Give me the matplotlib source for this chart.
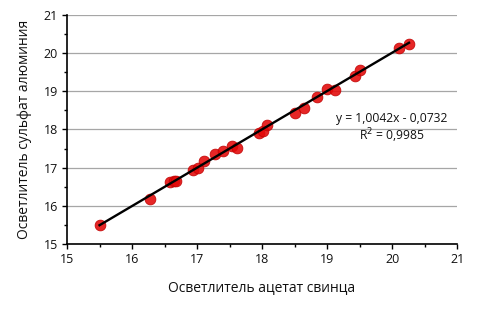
import numpy as np
import matplotlib.pyplot as plt
from matplotlib.ticker import MultipleLocator

## DATA
lead_acetate = [15.50, 16.27, 16.58, 16.64, 16.68, 16.94, 17.02, 17.11, 17.28, 17.40,
                17.53, 17.61, 17.96, 18.02, 18.08, 18.51, 18.64, 18.84, 19.00, 19.12,
                19.43, 19.51, 20.10, 20.26]
aluminium_sulfate = [15.51, 16.19, 16.62, 16.66, 16.64, 16.93, 16.99, 17.18, 17.37, 17.43,
                     17.56, 17.51, 17.91, 17.95, 18.12, 18.43, 18.56, 18.86, 19.06, 19.04,
                     19.39, 19.56, 20.13, 20.23]
slope = 1.0042
intercept = -0.0732
r_squared = 0.9985

plt.rcParams['font.family'] = ['Open Sans', 'DejaVu Sans']

fig = plt.figure(figsize=(4.79, 3.09), dpi=100)
ax = fig.add_axes([0.1399, 0.2104, 0.8144, 0.7411])

## GRID
ax.set_axisbelow(True)
ax.yaxis.grid(True, color='#a6a6a6', linewidth=0.9)

## POINTS AND TREND LINE
ax.scatter(lead_acetate, aluminium_sulfate, s=60, color='#e30808', edgecolors='#c00000',
           linewidths=0.6, alpha=0.88, zorder=3)
xs = np.array([min(lead_acetate), max(lead_acetate)])
ax.plot(xs, slope * xs + intercept, color='black', linewidth=1.7, zorder=4)

ax.text(20.0, 18.28, f'y = {slope:.4f}x - {abs(intercept):.4f}'.replace('.', ','),
        ha='center', va='center', fontsize=8.7, color='#111111', zorder=5)
ax.text(20.0, 17.84, f'R$^2$ = {r_squared:.4f}'.replace('.', ','),
        ha='center', va='center', fontsize=8.7, color='#111111', zorder=5)

## AXES
ax.set_xlim(15, 21)
ax.set_ylim(15, 21)
ax.xaxis.set_major_locator(MultipleLocator(1))
ax.xaxis.set_minor_locator(MultipleLocator(0.5))
ax.yaxis.set_major_locator(MultipleLocator(1))
ax.yaxis.set_minor_locator(MultipleLocator(0.5))
ax.tick_params(which='both', direction='out', color='black', width=1.0)
ax.tick_params(which='major', length=3.5, labelsize=9, pad=3, labelcolor='#111111')
ax.tick_params(which='minor', length=2.5)
for side in ['top', 'right']:
    ax.spines[side].set_visible(False)
for side in ['left', 'bottom']:
    ax.spines[side].set_linewidth(1.2)

ax.set_xlabel('Осветлитель ацетат свинца', fontsize=10, labelpad=10, color='#111111')
ax.set_ylabel('Осветлитель сульфат алюминия', fontsize=10, labelpad=8, color='#111111')

fig.savefig('out.png', dpi=100)
